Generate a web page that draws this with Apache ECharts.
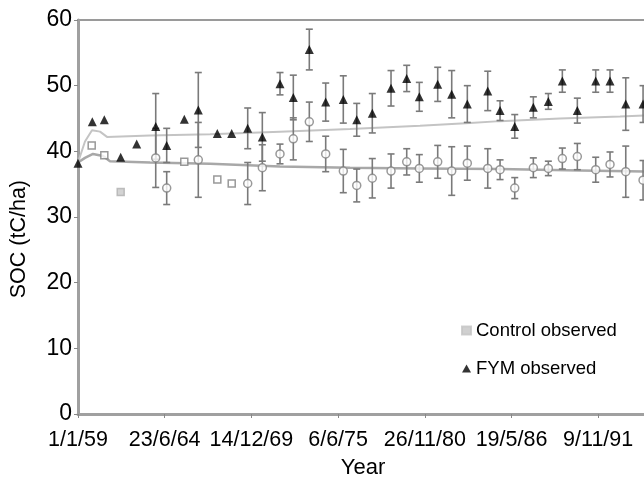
<!DOCTYPE html>
<html><head><meta charset="utf-8">
<script src="https://cdn.jsdelivr.net/npm/echarts@6/dist/echarts.min.js"></script>
<style>html,body{margin:0;padding:0;background:#fff}#c{width:644px;height:479px}</style>
</head><body><div id="c"></div>
<script>
// x values are days since 1 Jan 1959
const xTickLabels = ['1/1/59','23/6/64','14/12/69','6/6/75','26/11/80','19/5/86','9/11/91'];

const fymDays = [0,330,607,985,1354,1793,2046,2452,2775,3214,3546,3915,4252,4660,4967,5336,5714,6120,6430,6789,7221,7583,7874,8298,8621,8981,9452,9736,10075,10504,10850,11173,11519,11943,12273,12636,13035];
const fymSOC  = [38.2,44.5,44.8,39.1,41.1,43.8,40.9,44.9,46.3,42.7,42.7,43.5,42.2,50.3,48.2,55.5,47.5,47.9,44.8,45.8,49.6,51.1,48.3,50.2,48.7,47.2,49.2,46.2,43.8,46.7,47.6,50.7,46.2,50.7,50.7,47.2,47.2];
const fymErr  = [0,0,0,0,0,5.0,2.6,0,5.7,0,0,3.1,3.7,1.7,3.4,3.1,2.9,3.6,2.5,3.0,2.7,2.0,2.2,2.6,3.6,2.8,3.0,1.5,1.8,1.6,1.2,1.7,1.9,1.7,1.7,4.0,2.8];

const ctlDays = [316,607,985,1793,2046,2452,2775,3214,3546,3915,4252,4660,4967,5336,5714,6120,6430,6789,7221,7583,7874,8298,8621,8981,9452,9736,10075,10504,10850,11173,11519,11943,12273,12636,13035];
const ctlSOC  = [40.9,39.4,33.8,39.0,34.4,38.4,38.7,35.7,35.1,35.1,37.5,39.6,41.9,44.5,39.6,37.0,34.8,35.9,37.0,38.4,37.4,38.4,37.0,38.2,37.4,37.2,34.4,37.5,37.4,38.9,39.2,37.2,38.0,36.9,35.6];
const ctlErr  = [0,0,0,4.5,2.5,0,5.7,0,0,3.2,3.5,1.5,3.2,3.0,2.7,3.3,2.5,3.0,2.6,2.0,2.1,2.5,3.7,2.6,3.0,1.5,1.6,1.5,1.1,1.6,2.0,1.9,1.9,3.9,3.0];

const fymModelDays = [0,161,323,508,669,1661,3045,4660,6275,7890,9043,9735,11120,12503,13149];
const fymModelSOC  = [38.3,41.5,43.2,43.0,42.2,42.4,42.6,43.0,43.4,43.9,44.3,44.6,45.0,45.3,45.5];
const ctlModelDays = [0,161,346,577,738,1661,3045,4660,6275,7890,9735,11581,13149];
const ctlModelSOC  = [38.3,39.0,39.6,39.3,38.5,38.3,38.1,37.7,37.5,37.4,37.3,37.1,36.9];

const zip = (a,b) => a.map((v,i)=>[v,b[i]]);
const FONT = 'Liberation Sans, Arial, sans-serif';

function errSeries(name, xs, ys, es, color){
  const data = [];
  xs.forEach((x,i)=>{ if (es[i]>0) data.push([x, ys[i]-es[i], ys[i]+es[i]]); });
  return {
    type:'custom', name, silent:true, z:3, data,
    encode:{x:0, y:[1,2]},
    renderItem(params, api){
      const x = api.value(0);
      const lo = api.coord([x, api.value(1)]);
      const hi = api.coord([x, api.value(2)]);
      const w = 3.5, st = {stroke:color, lineWidth:1.6};
      return {type:'group', children:[
        {type:'line', shape:{x1:lo[0],y1:lo[1],x2:hi[0],y2:hi[1]}, style:st},
        {type:'line', shape:{x1:lo[0]-w,y1:lo[1],x2:lo[0]+w,y2:lo[1]}, style:st},
        {type:'line', shape:{x1:hi[0]-w,y1:hi[1],x2:hi[0]+w,y2:hi[1]}, style:st}
      ]};
    }
  };
}

// control points without error bars are drawn as squares (one of them shaded), as in the source figure
const ctlData = ctlDays.map((d,i)=>{
  const item = {value:[d, ctlSOC[i]]};
  if (ctlErr[i] === 0) {
    item.symbol = 'rect'; item.symbolSize = 7;
    if (i === 2) item.itemStyle = {color:'#c8c8c8', borderColor:'#b0b0b0'};
  }
  return item;
});

const chart = echarts.init(document.getElementById('c'), null, {renderer:'canvas'});
chart.setOption({
  animation:false,
  backgroundColor:'#fff',
  grid:{left:78, top:20, bottom:65, right:-4, containLabel:false, outerBoundsMode:'none',
        show:true, borderColor:'#9a9a9a', borderWidth:2},
  legend:{
    orient:'vertical', left:456, top:316, itemGap:19, itemWidth:9, itemHeight:8,
    textStyle:{fontFamily:FONT, fontSize:18.5, color:'#000'},
    data:[
      {name:'Control observed', icon:'rect', itemStyle:{color:'#c4c4c4', borderColor:'#c4c4c4'}},
      {name:'FYM observed', icon:'triangle', itemStyle:{color:'#000', borderColor:'#000'}}
    ]
  },
  graphic:[{
    type:'text', left:8, top:180, rotation:Math.PI/2,
    style:{text:'SOC (tC/ha)', fontFamily:FONT, fontSize:21.5, fill:'#000'}
  }],
  xAxis:{
    type:'value', min:0, max:13149, interval:2000,
    name:'Year', nameLocation:'middle', nameGap:43,
    nameTextStyle:{fontFamily:FONT, fontSize:22, color:'#000'},
    axisLine:{lineStyle:{color:'#a0a0a0', width:3}},
    axisTick:{show:true, length:4, lineStyle:{color:'#888'}},
    splitLine:{show:false},
    axisLabel:{fontFamily:FONT, fontSize:21.5, color:'#000', margin:15, showMaxLabel:false,
      formatter:(v)=>{ const i = Math.round(v/2000); return (v%2000===0 && i<xTickLabels.length) ? xTickLabels[i] : ''; }}
  },
  yAxis:{
    type:'value', min:0, max:60, interval:10,
    axisLine:{show:true, lineStyle:{color:'#a0a0a0', width:3}},
    axisTick:{show:true, length:4, lineStyle:{color:'#888'}},
    splitLine:{show:false},
    axisLabel:{fontFamily:FONT, fontSize:23, color:'#000', margin:6}
  },
  series:[
    {name:'FYM model', type:'line', data:zip(fymModelDays,fymModelSOC), showSymbol:false, symbol:'none',
     lineStyle:{color:'#c4c4c4', width:2}, z:1, silent:true},
    {name:'Control model', type:'line', data:zip(ctlModelDays,ctlModelSOC), showSymbol:false, symbol:'none',
     lineStyle:{color:'#a8a8a8', width:2.5}, z:1, silent:true},
    errSeries('ctl err', ctlDays, ctlSOC, ctlErr, '#7a7a7a'),
    errSeries('fym err', fymDays, fymSOC, fymErr, '#7a7a7a'),
    {name:'Control observed', type:'scatter', data:ctlData, symbol:'circle', symbolSize:8, z:4,
     itemStyle:{color:'#fff', borderColor:'#808080', borderWidth:1.5}},
    {name:'FYM observed', type:'scatter', data:zip(fymDays,fymSOC), symbol:'triangle', symbolSize:9, z:5,
     itemStyle:{color:'#000'}}
  ]
});
</script></body></html>
